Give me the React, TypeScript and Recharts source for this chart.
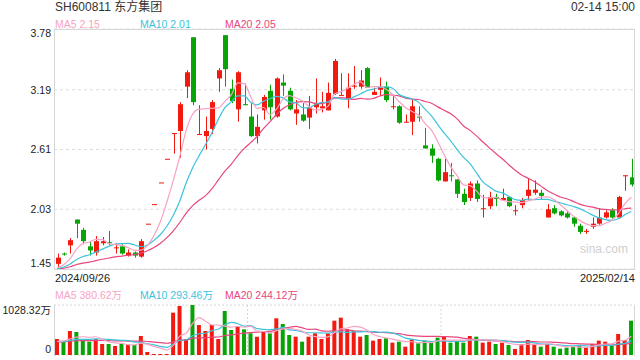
import { Bar, Cell, ComposedChart, CartesianGrid, Line, ReferenceLine, XAxis, YAxis } from "recharts";

const RED = "#f2190f";
const GREEN = "#07a307";
const C_MA5 = "#f8a3c3";
const C_MA10 = "#3cc3dd";
const C_MA20 = "#e8467c";
const FONT = '"Liberation Sans", Arial, "Noto Sans CJK SC", sans-serif';

// daily OHLC, 2024/09/26 .. 2025/02/14
const opens = [
  1.5, 1.6, 1.68, 1.93, 1.83, 1.67, 1.61, 1.7, 1.71, 1.66, 1.67, 1.58, 1.61, 1.57, 1.89, 2.08, 2.29, 2.52, 2.77, 2.79,
  3.22, 3.7, 2.76, 2.74, 2.81, 3.3, 3.72, 3.2, 3.0, 3.05, 2.93, 2.74, 2.99, 3.18, 2.93, 3.26, 3.18, 2.96, 2.95, 2.92,
  3.02, 3.01, 2.99, 3.15, 3.14, 3.1, 3.23, 3.22, 3.4, 3.14, 3.19, 3.22, 3.03, 3.03, 2.88, 2.88, 2.93, 2.65, 2.62, 2.52,
  2.3, 2.36, 2.32, 2.18, 2.14, 2.28, 2.04, 2.06, 2.15, 2.12, 2.15, 2.02, 2.07, 2.16, 2.19, 2.19, 1.95, 2.04, 2.01, 1.99,
  1.95, 1.87, 1.82, 1.86, 1.89, 1.95, 2.02, 1.95, 2.35, 2.34,
];
const highs = [
  1.6, 1.61, 1.75, 1.93, 1.85, 1.72, 1.77, 1.76, 1.82, 1.7, 1.69, 1.64, 1.62, 1.74, 1.89, 2.08, 2.29, 2.52, 2.77, 3.07,
  3.38, 3.7, 3.04, 2.93, 3.09, 3.4, 3.72, 3.29, 3.37, 3.25, 3.06, 2.95, 3.14, 3.24, 3.31, 3.34, 3.21, 3.09, 3.06, 3.13,
  3.3, 3.17, 3.26, 3.49, 3.35, 3.35, 3.42, 3.38, 3.41, 3.21, 3.31, 3.27, 3.13, 3.04, 2.95, 3.1, 3.03, 2.82, 2.66, 2.53,
  2.52, 2.48, 2.32, 2.23, 2.3, 2.31, 2.17, 2.2, 2.18, 2.23, 2.15, 2.07, 2.14, 2.33, 2.31, 2.22, 2.08, 2.07, 2.02, 2.01,
  1.96, 1.89, 1.84, 1.95, 2.04, 2.02, 2.04, 2.16, 2.36, 2.52,
];
const lows = [
  1.46, 1.58, 1.6, 1.75, 1.69, 1.58, 1.58, 1.68, 1.68, 1.6, 1.59, 1.57, 1.56, 1.56, 1.89, 2.08, 2.29, 2.52, 2.57, 2.53,
  3.11, 3.04, 2.76, 2.61, 2.76, 3.17, 3.22, 3.06, 2.88, 3.04, 2.73, 2.67, 2.9, 2.9, 2.92, 3.13, 2.99, 2.85, 2.88, 2.81,
  2.96, 2.97, 2.99, 3.14, 3.14, 3.01, 3.2, 3.2, 3.21, 3.14, 3.13, 3.07, 3.0, 2.86, 2.87, 2.75, 2.88, 2.62, 2.48, 2.3,
  2.3, 2.3, 2.14, 2.07, 2.11, 2.1, 1.95, 2.03, 2.06, 2.11, 2.05, 1.97, 2.04, 2.12, 2.17, 2.13, 1.95, 1.98, 1.96, 1.94,
  1.86, 1.79, 1.79, 1.84, 1.88, 1.94, 1.94, 1.95, 2.21, 2.25,
];
const closes = [
  1.56, 1.59, 1.73, 1.89, 1.72, 1.63, 1.72, 1.72, 1.7, 1.66, 1.6, 1.61, 1.58, 1.72, 1.89, 2.08, 2.29, 2.52, 2.77, 3.05,
  3.36, 3.07, 2.76, 2.79, 3.07, 3.38, 3.39, 3.08, 3.36, 3.04, 2.74, 2.83, 3.12, 3.02, 3.3, 3.23, 3.0, 3.0, 2.89, 3.02,
  3.06, 3.03, 3.16, 3.47, 3.14, 3.21, 3.23, 3.28, 3.21, 3.17, 3.22, 3.09, 3.03, 2.87, 2.88, 3.03, 2.92, 2.62, 2.55, 2.31,
  2.39, 2.35, 2.18, 2.1, 2.28, 2.13, 2.04, 2.15, 2.13, 2.14, 2.06, 2.02, 2.12, 2.22, 2.22, 2.16, 2.03, 1.99, 1.97, 1.95,
  1.89, 1.81, 1.82, 1.89, 1.95, 2.0, 1.95, 2.15, 2.36, 2.27,
];
// volume, 万股
const volumes = [
  329, 274, 494, 473, 309, 274, 329, 226, 226, 185, 226, 206, 206, 391, 62, 21, 21, 21, 871, 1008,
  329, 1028.32, 617, 494, 617, 329, 905, 514, 583, 528, 446, 377, 480, 446, 754, 638, 411, 377, 274, 377,
  446, 329, 446, 706, 768, 528, 494, 377, 411, 295, 329, 343, 254, 274, 171, 322, 240, 295, 254, 356,
  377, 254, 288, 254, 391, 377, 254, 274, 226, 254, 206, 123, 226, 309, 226, 171, 226, 171, 130, 151,
  171, 185, 151, 226, 295, 274, 206, 432, 309, 706,
];
// sessions before the first visible bar, only used for the moving averages
const preCloses = [1.45, 1.44, 1.46, 1.45, 1.44, 1.43, 1.45, 1.46, 1.44, 1.45, 1.44, 1.43, 1.45, 1.44, 1.46, 1.45, 1.44, 1.43, 1.44];
const preVolumes = [260, 240, 300, 280, 250, 270, 230, 310, 260, 240, 290, 250, 270, 300, 260, 240, 280, 300, 260];

const priceTicks = [1.45, 2.03, 2.61, 3.19, 3.78];
const volTicks = [0, 1028.32];
const startLabel = "2024/09/26";
const endLabel = "2025/02/14";

function movingAvg(series: number[], pre: number[], n: number) {
  const all = [...pre, ...series];
  return series.map((_, i) => {
    const end = i + pre.length;
    let s = 0;
    for (let k = end - n + 1; k <= end; k++) s += all[k];
    return s / n;
  });
}

const ma5 = movingAvg(closes, preCloses, 5);
const ma10 = movingAvg(closes, preCloses, 10);
const ma20 = movingAvg(closes, preCloses, 20);
const vma5 = movingAvg(volumes, preVolumes, 5);
const vma10 = movingAvg(volumes, preVolumes, 10);
const vma20 = movingAvg(volumes, preVolumes, 20);

const rows = closes.map((c, i) => ({
  i,
  open: opens[i],
  high: highs[i],
  low: lows[i],
  close: c,
  range: [lows[i], highs[i]],
  ma5: ma5[i],
  ma10: ma10[i],
  ma20: ma20[i],
  volume: volumes[i],
  vma5: vma5[i],
  vma10: vma10[i],
  vma20: vma20[i],
}));

const Candle = (props: any) => {
  const { x, y, width, height, payload } = props;
  if (x == null || y == null) return null;
  const { open, close, high, low } = payload;
  const color = close >= open ? RED : GREEN;
  const top = Math.min(y, y + (height || 0));
  const h = Math.abs(height || 0);
  const k = high > low ? h / (high - low) : 0;
  const yOf = (v: number) => top + (high - v) * k;
  const bTop = yOf(Math.max(open, close));
  const bBot = yOf(Math.min(open, close));
  const cx = Math.round(x + width / 2) + 0.5;
  return (
    <g>
      <line x1={cx} x2={cx} y1={top} y2={top + h} stroke={color} strokeWidth={1} />
      <rect x={cx - width / 2} y={bTop} width={width} height={Math.max(1, bBot - bTop)} fill={color} />
    </g>
  );
};

const makeTick = (ticks: number[], fmt: (v: number) => string, topDy: number, botDy: number) => (props: any) => {
  const { y, payload } = props;
  const v = payload.value;
  let dy = 3.8;
  if (v === ticks[ticks.length - 1]) dy = topDy;
  if (v === ticks[0]) dy = botDy;
  return (
    <text x={51} y={y} dy={dy} textAnchor="end" fontSize={10.5} fill="#222" fontFamily={FONT}>
      {fmt(v)}
    </text>
  );
};

const PriceTick = makeTick(priceTicks, (v) => v.toFixed(2), 7.5, -2.5);
const VolTick = makeTick(volTicks, (v) => (v === 0 ? "0" : v.toFixed(2) + "万"), 9, -2.5);

const txt = (left: number, top: number, s: string, color: string, size = 10.5, extra: any = {}) => (
  <div
    style={{
      position: "absolute",
      left,
      top,
      fontSize: size,
      lineHeight: "14px",
      color,
      whiteSpace: "nowrap",
      fontFamily: FONT,
      ...extra,
    }}
  >
    {s}
  </div>
);

export default function App() {
  return (
    <div style={{ position: "absolute", left: 0, top: 0, width: 640, height: 360, background: "#fff", overflow: "hidden" }}>
      {txt(55, 0, "SH600811 东方集团", "#333", 12)}
      {txt(520, 0, "02-14 15:00", "#333", 12, { width: 115, textAlign: "right" })}
      {txt(55, 17, "MA5 2.15", C_MA5)}
      {txt(140, 17, "MA10 2.01", C_MA10)}
      {txt(225, 17, "MA20 2.05", C_MA20)}

      <div style={{ position: "absolute", left: 0, top: 0 }}>
        <ComposedChart width={640} height={270} data={rows} margin={{ top: 29, right: 5.5, bottom: 1, left: 0 }}>
          <CartesianGrid vertical={false} stroke="#dcdcdc" strokeDasharray="3 3" />
          <XAxis dataKey="i" type="category" hide />
          <YAxis
            width={54}
            domain={[1.45, 3.78]}
            ticks={priceTicks}
            interval={0}
            axisLine={false}
            tickLine={false}
            tick={PriceTick}
            allowDataOverflow
          />
          <Bar dataKey="range" barSize={5} shape={Candle} isAnimationActive={false} />
          <Line dataKey="ma20" type="monotone" stroke={C_MA20} strokeWidth={1.2} dot={false} isAnimationActive={false} />
          <Line dataKey="ma10" type="monotone" stroke={C_MA10} strokeWidth={1.2} dot={false} isAnimationActive={false} />
          <Line dataKey="ma5" type="monotone" stroke={C_MA5} strokeWidth={1.2} dot={false} isAnimationActive={false} />
        </ComposedChart>
      </div>
      <div
        style={{
          position: "absolute",
          left: 54,
          top: 29,
          width: 581,
          height: 241,
          border: "1px solid #d6d6d6",
          boxSizing: "border-box",
          pointerEvents: "none",
        }}
      />
      {txt(580, 242, "sina.com", "#cfcfcf", 12)}

      {txt(55, 271, startLabel, "#222", 11)}
      {txt(520, 271, endLabel, "#222", 11, { width: 115, textAlign: "right" })}
      {txt(55, 288, "MA5 380.62万", C_MA5)}
      {txt(140, 288, "MA10 293.46万", C_MA10)}
      {txt(225, 288, "MA20 244.12万", C_MA20)}

      <div style={{ position: "absolute", left: 0, top: 300 }}>
        <ComposedChart width={640} height={60} data={rows} margin={{ top: 5, right: 5.5, bottom: 5, left: 0 }}>
          <CartesianGrid vertical={false} stroke="#d6d6d6" strokeDasharray="2 2" />
          <XAxis dataKey="i" type="category" hide />
          <YAxis
            width={54}
            domain={[0, 1028.32]}
            ticks={volTicks}
            interval={0}
            axisLine={false}
            tickLine={false}
            tick={VolTick}
          />
          <ReferenceLine x={30} position="start" stroke="#d6d6d6" strokeDasharray="2 2" />
          <ReferenceLine x={60} position="start" stroke="#d6d6d6" strokeDasharray="2 2" />
          <Bar dataKey="volume" barSize={4} isAnimationActive={false}>
            {rows.map((r) => (
              <Cell key={r.i} fill={r.close >= r.open ? RED : GREEN} />
            ))}
          </Bar>
          <Line dataKey="vma20" type="monotone" stroke={C_MA20} strokeWidth={1.2} dot={false} isAnimationActive={false} />
          <Line dataKey="vma10" type="monotone" stroke={C_MA10} strokeWidth={1.2} dot={false} isAnimationActive={false} />
          <Line dataKey="vma5" type="monotone" stroke={C_MA5} strokeWidth={1.2} dot={false} isAnimationActive={false} />
        </ComposedChart>
      </div>
      <div
        style={{
          position: "absolute",
          left: 54,
          top: 305,
          width: 581,
          height: 51,
          borderLeft: "1px solid #d6d6d6",
          borderRight: "1px solid #d6d6d6",
          boxSizing: "border-box",
          pointerEvents: "none",
        }}
      />
    </div>
  );
}
